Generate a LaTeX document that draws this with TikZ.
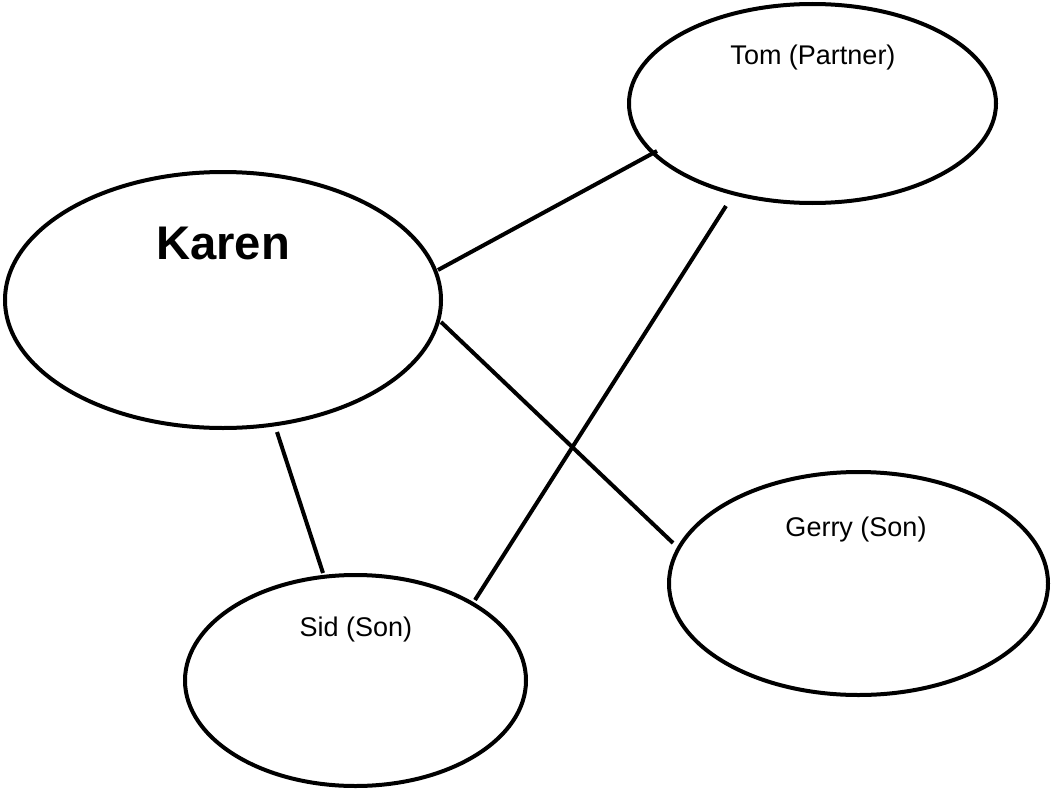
\documentclass[tikz,border=0pt]{standalone}
\usepackage{fontspec}
\setmainfont{Liberation Sans}
\usetikzlibrary{shapes.geometric}

\tikzset{
	person/.style={ellipse, draw, line width=4pt, inner sep=0pt},
	link/.style={line width=4pt},
}

\begin{document}
\begin{tikzpicture}[x=1pt, y=-1pt]
		\useasboundingbox (0,0) rectangle (1052,792);
		%people
		\node (karen) at (223, 300) [person, minimum width=436pt, minimum height=256pt]{};
		\node (tom) at (812.5, 103.5) [person, minimum width=367pt, minimum height=199pt]{};
		\node (gerry) at (858.5, 583.5) [person, minimum width=379pt, minimum height=223pt]{};
		\node (sid) at (355.5, 680.5) [person, minimum width=341pt, minimum height=211pt]{};
		
		%names
		\node (karen-name) at (223, 243){\fontsize{47.2}{50}\selectfont\bfseries Karen};
		\node (tom-name) at (813, 58){\fontsize{27}{30}\selectfont Tom (Partner)};
		\node (gerry-name) at (856, 530){\fontsize{27}{30}\selectfont Gerry (Son)};
		\node (sid-name) at (356, 630){\fontsize{27}{30}\selectfont Sid (Son)};
		
		%line ends
		\coordinate (kt1) at (438, 270);
		\coordinate (kt2) at (657, 151);
		\coordinate (ts1) at (726, 206);
		\coordinate (ts2) at (475, 600);
		\coordinate (kg1) at (441, 322);
		\coordinate (kg2) at (673, 543);
		\coordinate (ks1) at (277, 432);
		\coordinate (ks2) at (323, 573);
		
		\foreach \a/\b in {kt1/kt2, ts1/ts2, kg1/kg2, ks1/ks2}{
			\draw[link] (\a) -- (\b);
		}
		\end{tikzpicture}
\end{document}
